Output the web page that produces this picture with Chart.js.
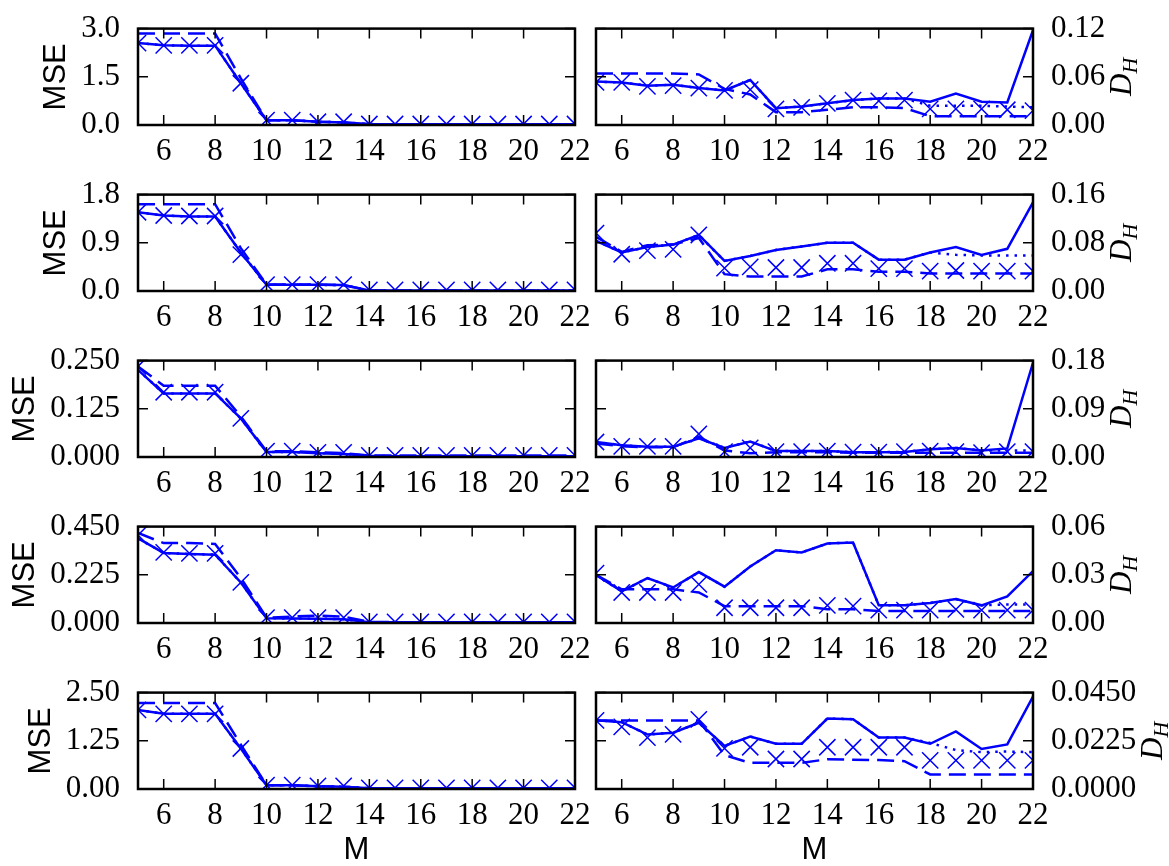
<!DOCTYPE html>
<html>
<head>
<meta charset="utf-8">
<script src="https://cdn.jsdelivr.net/npm/chart.js@4.4.1/dist/chart.umd.min.js"></script>
<style>
  body { margin: 0; width: 1169px; height: 866px; background: #fff; position: relative; overflow: hidden; }
  canvas { position: absolute; }
</style>
</head>
<body>
<script>
const M = [5, 6, 7, 8, 9, 10, 11, 12, 13, 14, 15, 16, 17, 18, 19, 20, 21, 22];
const xTicks = [6, 8, 10, 12, 14, 16, 18, 20, 22];

const mseTicks = [
  ['0.0', '1.5', '3.0'],
  ['0.0', '0.9', '1.8'],
  ['0.000', '0.125', '0.250'],
  ['0.000', '0.225', '0.450'],
  ['0.00', '1.25', '2.50']
];
const dhTicks = [
  ['0.00', '0.06', '0.12'],
  ['0.00', '0.08', '0.16'],
  ['0.00', '0.09', '0.18'],
  ['0.00', '0.03', '0.06'],
  ['0.0000', '0.0225', '0.0450']
];

// row 1
const mse1Solid = [2.55, 2.48, 2.47, 2.47, 1.30, 0.15, 0.15, 0.10, 0.08, 0.03, 0.02, 0.02, 0.02, 0.02, 0.02, 0.02, 0.02, 0.02];
const mse1Dashed = [2.85, 2.85, 2.85, 2.85, 1.45, 0.15, 0.15, 0.10, 0.08, 0.02, 0.02, 0.02, 0.02, 0.02, 0.02, 0.02, 0.02, 0.02];
const mse1Dotted = [2.55, 2.48, 2.47, 2.47, 1.30, 0.15, 0.15, 0.10, 0.08, 0.03, 0.02, 0.02, 0.02, 0.02, 0.02, 0.02, 0.02, 0.02];
const mse1Cross = [2.55, 2.48, 2.48, 2.48, 1.30, 0.15, 0.15, 0.10, 0.10, 0.03, 0.03, 0.03, 0.03, 0.03, 0.03, 0.03, 0.03, 0.03];
const dh1Solid = [0.054, 0.053, 0.049, 0.050, 0.046, 0.043, 0.056, 0.021, 0.023, 0.027, 0.031, 0.033, 0.033, 0.029, 0.039, 0.029, 0.028, 0.118];
const dh1Dashed = [0.064, 0.064, 0.064, 0.064, 0.063, 0.045, 0.038, 0.016, 0.016, 0.019, 0.022, 0.022, 0.021, 0.011, 0.011, 0.011, 0.011, 0.011];
const dh1Dotted = [0.054, 0.053, 0.049, 0.050, 0.046, 0.043, 0.056, 0.021, 0.023, 0.027, 0.031, 0.033, 0.033, 0.024, 0.024, 0.024, 0.023, 0.022];
const dh1Cross = [0.053, 0.053, 0.048, 0.049, 0.046, 0.043, 0.044, 0.020, 0.022, 0.027, 0.031, 0.030, 0.031, 0.020, 0.020, 0.020, 0.019, 0.018];

// row 2
const mse2Solid = [1.47, 1.41, 1.39, 1.39, 0.72, 0.115, 0.115, 0.115, 0.11, 0.01, 0.01, 0.01, 0.01, 0.01, 0.01, 0.01, 0.01, 0.01];
const mse2Dashed = [1.62, 1.62, 1.62, 1.62, 0.80, 0.12, 0.12, 0.12, 0.11, 0.01, 0.01, 0.01, 0.01, 0.01, 0.01, 0.01, 0.01, 0.01];
const mse2Dotted = [1.47, 1.41, 1.39, 1.39, 0.72, 0.115, 0.115, 0.115, 0.11, 0.01, 0.01, 0.01, 0.01, 0.01, 0.01, 0.01, 0.01, 0.01];
const mse2Cross = [1.47, 1.41, 1.40, 1.40, 0.68, 0.12, 0.12, 0.12, 0.12, 0.02, 0.02, 0.02, 0.02, 0.02, 0.02, 0.02, 0.02, 0.02];
const dh2Solid = [0.083, 0.064, 0.073, 0.077, 0.093, 0.050, 0.058, 0.068, 0.074, 0.080, 0.080, 0.052, 0.052, 0.064, 0.073, 0.060, 0.070, 0.147];
const dh2Dashed = [0.090, 0.065, 0.076, 0.077, 0.088, 0.028, 0.024, 0.024, 0.024, 0.036, 0.036, 0.032, 0.032, 0.029, 0.029, 0.029, 0.029, 0.029];
const dh2Dotted = [0.083, 0.064, 0.073, 0.077, 0.093, 0.050, 0.058, 0.068, 0.074, 0.080, 0.080, 0.052, 0.052, 0.064, 0.060, 0.059, 0.059, 0.059];
const dh2Cross = [0.096, 0.061, 0.067, 0.069, 0.093, 0.038, 0.040, 0.039, 0.039, 0.046, 0.046, 0.037, 0.037, 0.033, 0.034, 0.033, 0.033, 0.033];

// row 3
const mse3Solid = [0.226, 0.165, 0.165, 0.165, 0.100, 0.013, 0.013, 0.010, 0.008, 0.003, 0.002, 0.002, 0.002, 0.002, 0.002, 0.002, 0.002, 0.002];
const mse3Dashed = [0.235, 0.185, 0.185, 0.185, 0.105, 0.015, 0.015, 0.012, 0.010, 0.004, 0.004, 0.004, 0.004, 0.004, 0.004, 0.004, 0.004, 0.004];
const mse3Dotted = [0.226, 0.165, 0.165, 0.165, 0.100, 0.013, 0.013, 0.010, 0.008, 0.003, 0.002, 0.002, 0.002, 0.002, 0.002, 0.002, 0.002, 0.002];
const mse3Cross = [0.235, 0.168, 0.168, 0.168, 0.100, 0.015, 0.015, 0.012, 0.012, 0.004, 0.004, 0.004, 0.004, 0.004, 0.004, 0.004, 0.004, 0.004];
const dh3Solid = [0.028, 0.022, 0.019, 0.019, 0.035, 0.017, 0.029, 0.011, 0.011, 0.011, 0.009, 0.009, 0.0095, 0.0145, 0.017, 0.012, 0.016, 0.176];
const dh3Dashed = [0.025, 0.020, 0.018, 0.018, 0.038, 0.012, 0.007, 0.009, 0.009, 0.009, 0.008, 0.008, 0.008, 0.008, 0.008, 0.008, 0.008, 0.008];
const dh3Dotted = [0.028, 0.022, 0.019, 0.019, 0.035, 0.017, 0.029, 0.011, 0.011, 0.011, 0.009, 0.009, 0.0095, 0.0145, 0.017, 0.012, 0.012, 0.012];
const dh3Cross = [0.028, 0.020, 0.020, 0.020, 0.043, 0.010, 0.017, 0.010, 0.010, 0.011, 0.009, 0.009, 0.010, 0.011, 0.010, 0.008, 0.010, 0.010];

// row 4
const mse4Solid = [0.395, 0.327, 0.322, 0.319, 0.189, 0.022, 0.021, 0.020, 0.018, 0.004, 0.003, 0.003, 0.003, 0.003, 0.003, 0.003, 0.003, 0.003];
const mse4Dashed = [0.420, 0.373, 0.373, 0.369, 0.210, 0.025, 0.030, 0.035, 0.030, 0.005, 0.004, 0.004, 0.004, 0.004, 0.004, 0.004, 0.004, 0.004];
const mse4Dotted = [0.395, 0.327, 0.322, 0.319, 0.189, 0.022, 0.021, 0.020, 0.018, 0.004, 0.003, 0.003, 0.003, 0.003, 0.003, 0.003, 0.003, 0.003];
const mse4Cross = [0.410, 0.330, 0.325, 0.325, 0.190, 0.025, 0.025, 0.025, 0.025, 0.005, 0.005, 0.005, 0.005, 0.005, 0.005, 0.005, 0.005, 0.005];
const dh4Solid = [0.0298, 0.0197, 0.0279, 0.0221, 0.0317, 0.0226, 0.0352, 0.0453, 0.0439, 0.0495, 0.0501, 0.011, 0.011, 0.0124, 0.0149, 0.011, 0.0165, 0.0323];
const dh4Dashed = [0.030, 0.021, 0.021, 0.021, 0.019, 0.0105, 0.0105, 0.0105, 0.0105, 0.0085, 0.0085, 0.0075, 0.0075, 0.0075, 0.0075, 0.0075, 0.0075, 0.0075];
const dh4Dotted = [0.0298, 0.0197, 0.0279, 0.0221, 0.0317, 0.0226, 0.0352, 0.0453, 0.0439, 0.0495, 0.0501, 0.011, 0.011, 0.0124, 0.0149, 0.011, 0.0115, 0.0115];
const dh4Cross = [0.031, 0.019, 0.019, 0.019, 0.024, 0.0095, 0.0095, 0.0095, 0.0095, 0.011, 0.0105, 0.008, 0.008, 0.008, 0.0085, 0.008, 0.008, 0.008];

// row 5
const mse5Solid = [2.05, 1.95, 1.95, 1.95, 1.05, 0.10, 0.10, 0.07, 0.06, 0.02, 0.02, 0.02, 0.02, 0.02, 0.02, 0.02, 0.02, 0.02];
const mse5Dashed = [2.23, 2.23, 2.23, 2.23, 1.15, 0.10, 0.10, 0.07, 0.06, 0.02, 0.02, 0.02, 0.02, 0.02, 0.02, 0.02, 0.02, 0.02];
const mse5Dotted = [2.05, 1.95, 1.95, 1.95, 1.05, 0.10, 0.10, 0.07, 0.06, 0.02, 0.02, 0.02, 0.02, 0.02, 0.02, 0.02, 0.02, 0.02];
const mse5Cross = [2.05, 1.95, 1.95, 1.95, 1.05, 0.10, 0.10, 0.08, 0.08, 0.03, 0.03, 0.03, 0.03, 0.03, 0.03, 0.03, 0.03, 0.03];
const dh5Solid = [0.0321, 0.0312, 0.0254, 0.0263, 0.0309, 0.0201, 0.0245, 0.0211, 0.0211, 0.0329, 0.0326, 0.0240, 0.0240, 0.0211, 0.0269, 0.0187, 0.0208, 0.0431];
const dh5Dashed = [0.032, 0.032, 0.032, 0.032, 0.032, 0.0158, 0.0122, 0.0122, 0.0122, 0.0139, 0.0137, 0.0135, 0.013, 0.0068, 0.0068, 0.0068, 0.0068, 0.0068];
const dh5Dotted = [0.0321, 0.0312, 0.0254, 0.0263, 0.0309, 0.0201, 0.0245, 0.0211, 0.0211, 0.0329, 0.0326, 0.0240, 0.0240, 0.0215, 0.0182, 0.0172, 0.0175, 0.0172];
const dh5Cross = [0.032, 0.029, 0.024, 0.0255, 0.0325, 0.019, 0.0195, 0.014, 0.014, 0.0195, 0.0195, 0.0195, 0.0195, 0.0134, 0.0134, 0.0134, 0.0134, 0.0134];

const mseRows = [
  [mse1Solid, mse1Dashed, mse1Dotted, mse1Cross],
  [mse2Solid, mse2Dashed, mse2Dotted, mse2Cross],
  [mse3Solid, mse3Dashed, mse3Dotted, mse3Cross],
  [mse4Solid, mse4Dashed, mse4Dotted, mse4Cross],
  [mse5Solid, mse5Dashed, mse5Dotted, mse5Cross]
];
const dhRows = [
  [dh1Solid, dh1Dashed, dh1Dotted, dh1Cross],
  [dh2Solid, dh2Dashed, dh2Dotted, dh2Cross],
  [dh3Solid, dh3Dashed, dh3Dotted, dh3Cross],
  [dh4Solid, dh4Dashed, dh4Dotted, dh4Cross],
  [dh5Solid, dh5Dashed, dh5Dotted, dh5Cross]
];

const BLUE = '#0000ff';
const serif = '"Liberation Serif", "DejaVu Serif", serif';
const sans = '"Liberation Sans", Arial, sans-serif';
const ROW_TOP = 21;
const ROW_STEP = 166;
const AREA_H = 104;
const TICK_SIZE = 31;

const measure = document.createElement('canvas').getContext('2d');
measure.font = TICK_SIZE + 'px ' + serif;
const widest = labels => Math.max(...labels.map(l => measure.measureText(l).width));

function lineSet(values, dash, cross) {
  return {
    data: M.map((m, i) => ({ x: m, y: values[i] })),
    borderColor: BLUE,
    backgroundColor: BLUE,
    borderWidth: cross ? 0 : 2.5,
    borderDash: dash,
    showLine: !cross,
    pointStyle: 'crossRot',
    pointRadius: cross ? 11.5 : 0,
    pointBorderWidth: 1.5,
    pointBorderColor: BLUE,
    tension: 0
  };
}

// inward ticks on all four sides plus the box
const framePlugin = {
  id: 'frame',
  afterDatasetsDraw(chart) {
    const { ctx, chartArea: a, scales: { x, y } } = chart;
    ctx.save();
    ctx.strokeStyle = '#000';
    ctx.lineWidth = 1.5;
    ctx.beginPath();
    x.ticks.forEach(t => {
      const px = x.getPixelForValue(t.value);
      ctx.moveTo(px, a.bottom); ctx.lineTo(px, a.bottom - 10);
      ctx.moveTo(px, a.top); ctx.lineTo(px, a.top + 10);
    });
    y.ticks.forEach(t => {
      const py = y.getPixelForValue(t.value);
      ctx.moveTo(a.left, py); ctx.lineTo(a.left + 10, py);
      ctx.moveTo(a.right, py); ctx.lineTo(a.right - 10, py);
    });
    ctx.stroke();
    ctx.lineWidth = 2.5;
    ctx.strokeRect(a.left, a.top, a.right - a.left, a.bottom - a.top);
    ctx.restore();
  }
};

const dhLabel = {
  id: 'dhLabel',
  afterDraw(chart, args, opts) {
    if (!opts.show) return;
    const { ctx, chartArea: a } = chart;
    const bx = a.right + 10 + opts.labelWidth + 34;
    const cy = (a.top + a.bottom) / 2;
    ctx.save();
    ctx.translate(bx, cy);
    ctx.rotate(-Math.PI / 2);
    ctx.fillStyle = '#000';
    ctx.textBaseline = 'alphabetic';
    ctx.font = 'italic 31px ' + serif;
    const dw = ctx.measureText('D').width;
    ctx.font = 'italic 22px ' + serif;
    const hw = ctx.measureText('H').width;
    const start = -(dw + hw) / 2;
    ctx.font = 'italic 31px ' + serif;
    ctx.fillText('D', start, 0);
    ctx.font = 'italic 22px ' + serif;
    ctx.fillText('H', start + dw, 6);
    ctx.restore();
  }
};

function makePanel(row, right, series, labels) {
  const top = ROW_TOP + row * ROW_STEP;
  const last = row === 4;
  const width = right ? 584 : 600;
  const height = last ? 866 - (top - 21) : 170;
  const canvas = document.createElement('canvas');
  canvas.width = width;
  canvas.height = height;
  canvas.style.left = (right ? 585 : 0) + 'px';
  canvas.style.top = (top - 21) + 'px';
  document.body.appendChild(canvas);
  const w = widest(labels);

  new Chart(canvas, {
    type: 'line',
    data: {
      datasets: [
        lineSet(series[0], [], false),
        lineSet(series[1], [17, 8], false),
        lineSet(series[2], [2.5, 6], false),
        lineSet(series[3], [], true)
      ]
    },
    options: {
      responsive: false,
      animation: false,
      devicePixelRatio: 1,
      events: [],
      layout: {
        autoPadding: false,
        padding: { left: right ? 11 : 0, right: right ? 0 : 25, top: 21, bottom: 0 }
      },
      plugins: {
        legend: { display: false },
        tooltip: { enabled: false },
        dhLabel: { show: right, labelWidth: w }
      },
      scales: {
        x: {
          type: 'linear',
          min: 5,
          max: 22,
          grid: { display: false },
          border: { display: false },
          afterBuildTicks: s => { s.ticks = xTicks.map(v => ({ value: v })); },
          afterFit: s => { s.height = height - 21 - AREA_H; },
          ticks: {
            font: { family: serif, size: TICK_SIZE, lineHeight: 1.2 },
            color: '#000',
            padding: 0,
            autoSkip: false,
            maxRotation: 0,
            callback: v => String(v)
          },
          title: {
            display: last,
            text: 'M',
            color: '#000',
            font: { family: sans, size: 31, lineHeight: 1.0 },
            padding: 0
          }
        },
        y: {
          type: 'linear',
          position: right ? 'right' : 'left',
          min: 0,
          max: parseFloat(labels[labels.length - 1]),
          grid: { display: false },
          border: { display: false },
          afterBuildTicks: s => { s.ticks = labels.map(l => ({ value: parseFloat(l) })); },
          afterFit: s => { s.width = right ? 136 : 138; },
          ticks: {
            font: { family: serif, size: TICK_SIZE },
            color: '#000',
            padding: 10,
            callback: (v, i) => labels[i]
          },
          title: {
            display: !right,
            text: 'MSE',
            color: '#000',
            font: { family: sans, size: 31, lineHeight: 1.2 },
            padding: { top: 77 - w, bottom: 0 }
          }
        }
      }
    },
    plugins: [framePlugin, dhLabel]
  });
}

for (let r = 0; r < 5; r++) {
  makePanel(r, false, mseRows[r], mseTicks[r]);
  makePanel(r, true, dhRows[r], dhTicks[r]);
}
</script>
</body>
</html>
